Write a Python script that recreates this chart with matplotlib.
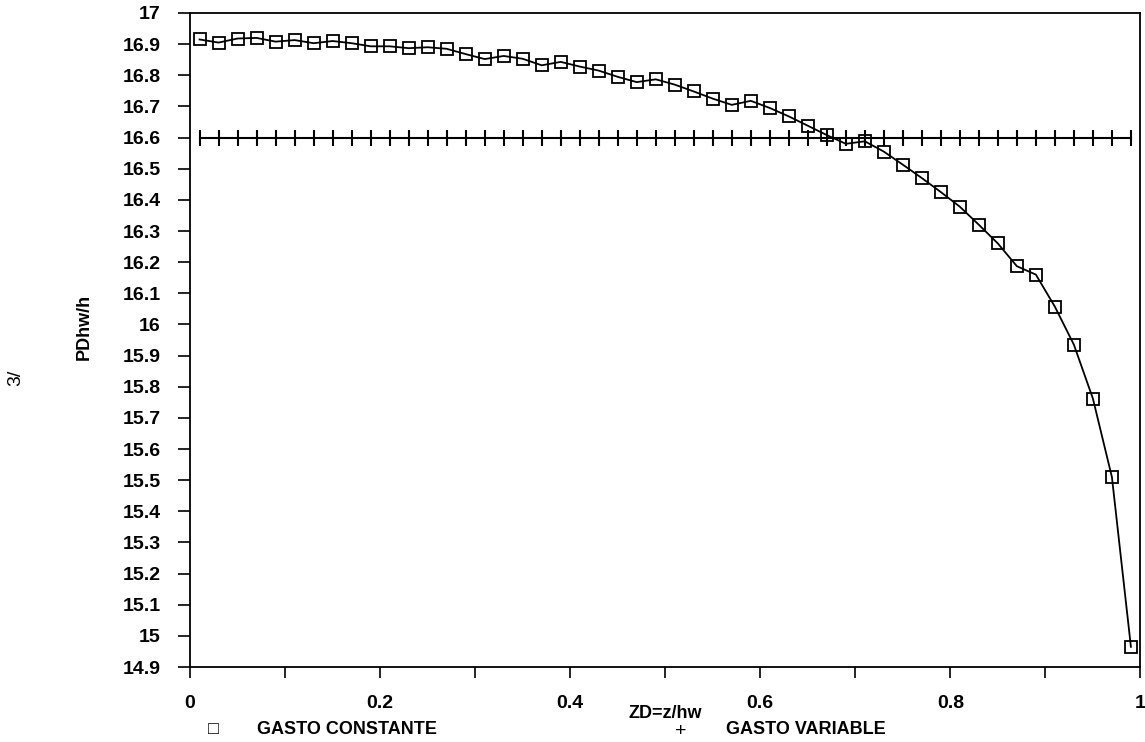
import numpy as np
import matplotlib
matplotlib.use("Agg")
import matplotlib.pyplot as plt

# ZD = z/hw positions (square and plus series share them)
zd = [0.01, 0.03, 0.05, 0.07, 0.09, 0.11, 0.13, 0.15, 0.17, 0.19,
      0.21, 0.23, 0.25, 0.27, 0.29, 0.31, 0.33, 0.35, 0.37, 0.39,
      0.41, 0.43, 0.45, 0.47, 0.49, 0.51, 0.53, 0.55, 0.57, 0.59,
      0.61, 0.63, 0.65, 0.67, 0.69, 0.71, 0.73, 0.75, 0.77, 0.79,
      0.81, 0.83, 0.85, 0.87, 0.89, 0.91, 0.93, 0.95, 0.97, 0.99]

gasto_constante = [16.915, 16.905, 16.918, 16.920, 16.908, 16.913, 16.903, 16.910, 16.903, 16.893,
                   16.893, 16.887, 16.890, 16.885, 16.868, 16.852, 16.862, 16.853, 16.832, 16.843,
                   16.828, 16.815, 16.795, 16.778, 16.787, 16.770, 16.748, 16.725, 16.705, 16.718,
                   16.695, 16.668, 16.638, 16.608, 16.580, 16.588, 16.555, 16.513, 16.470, 16.425,
                   16.378, 16.320, 16.260, 16.187, 16.160, 16.057, 15.935, 15.762, 15.510, 14.965]

gasto_variable = [16.6] * 50

yticks = [14.9, 15, 15.1, 15.2, 15.3, 15.4, 15.5, 15.6, 15.7, 15.8, 15.9, 16,
          16.1, 16.2, 16.3, 16.4, 16.5, 16.6, 16.7, 16.8, 16.9, 17]
ytick_labels = ["14.9", "15", "15.1", "15.2", "15.3", "15.4", "15.5", "15.6", "15.7", "15.8",
                "15.9", "16", "16.1", "16.2", "16.3", "16.4", "16.5", "16.6", "16.7", "16.8",
                "16.9", "17"]
xticks_major = [0, 0.2, 0.4, 0.6, 0.8, 1]
xtick_labels = ["0", "0.2", "0.4", "0.6", "0.8", "1"]

plt.rcParams['font.family'] = ['Liberation Sans', 'DejaVu Sans']

fig = plt.figure(figsize=(11.45, 7.42), dpi=100)
ax = fig.add_axes([0.166, 0.101, 0.830, 0.8815])

ax.plot(zd, gasto_constante, color='black', linewidth=1.3, marker='s', markersize=9,
        markerfacecolor='none', markeredgecolor='black', markeredgewidth=1.3)
ax.plot(zd, gasto_variable, color='black', linewidth=1.5, marker='|', markersize=12,
        markeredgewidth=1.5)

ax.set_xlim(0, 1)
ax.set_ylim(14.9, 17)
ax.set_xticks(xticks_major)
ax.set_xticklabels(xtick_labels, fontsize=14, fontweight='bold')
ax.set_xticks(np.arange(0.1, 1.0, 0.2), minor=True)
ax.set_yticks(yticks)
ax.set_yticklabels(ytick_labels, fontsize=14, fontweight='bold')

ax.tick_params(axis='y', which='major', direction='out', length=9, width=1.2, pad=12)
ax.tick_params(axis='x', which='both', direction='out', length=8, width=1.2, pad=12)
for s in ax.spines.values():
    s.set_linewidth(1.3)

ax.set_xlabel("ZD=z/hw", fontsize=13, fontweight='bold')
ax.xaxis.set_label_coords(0.5, -0.058)
ax.set_ylabel("PDhw/h", fontsize=13, fontweight='bold')
ax.yaxis.set_label_coords(-0.102, 0.52)

# legend row along the bottom
fig.text(213 / 1145, 1 - 729 / 742, "\u25a1", fontsize=13, ha='center', va='center')
fig.text(257 / 1145, 1 - 729 / 742, "GASTO CONSTANTE", fontsize=13, fontweight='bold',
         ha='left', va='center')
fig.text(681 / 1145, 1 - 732 / 742, "+", fontsize=14, ha='center', va='center')
fig.text(726 / 1145, 1 - 729 / 742, "GASTO VARIABLE", fontsize=13, fontweight='bold',
         ha='left', va='center')

# handwritten page mark on the left margin
fig.text(16 / 1145, 1 - 378 / 742, "3/", fontsize=14, rotation=90, ha='center', va='center')

fig.savefig("out.png", dpi=100)
